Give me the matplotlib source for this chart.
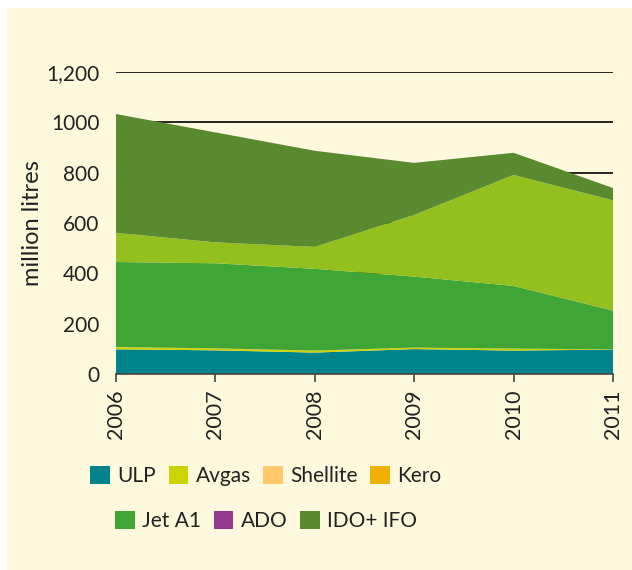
import matplotlib
matplotlib.use("Agg")
import matplotlib.pyplot as plt
from matplotlib.patches import Patch, Rectangle

plt.rcParams['font.family'] = ['Lato', 'DejaVu Sans']

years = [2006, 2007, 2008, 2009, 2010, 2011]
ulp = [98, 94, 85, 99, 93, 97]
avgas = [8, 7, 7, 6, 7, 1]
shellite = [0, 0, 0, 0, 0, 0]
kero = [1, 1, 1, 0, 1, 0]
jet_a1 = [338, 338, 325, 282, 249, 154]
ado = [116, 83, 87, 245, 441, 438]
ido_ifo = [472, 437, 382, 207, 88, 49]

labels = ['ULP', 'Avgas', 'Shellite', 'Kero', 'Jet A1', 'ADO', 'IDO+ IFO']
legend_colors = ['#00838a', '#ccd400', '#ffc86b', '#f0b000', '#3fa535', '#953a8c', '#5a8a30']
# the ADO band is filled light green in the original
area_colors = ['#00838a', '#ccd400', '#ffc86b', '#f0b000', '#3fa535', '#93c01f', '#5a8a30']

yticks = [0, 200, 400, 600, 800, 1000, 1200]
ytick_labels = ['0', '200', '400', '600', '800', '1000', '1,200']

bg = '#fef9dc'
txt = '#222222'

fig = plt.figure(figsize=(6.32, 5.70), dpi=100, facecolor='white')
fig.patches.append(Rectangle((7 / 632, 0), 1, 1 - 8 / 570, transform=fig.transFigure,
                             facecolor=bg, edgecolor='none', zorder=-10))

ax = fig.add_axes([116 / 632, 1 - 374 / 570, 497 / 632, 302 / 570])
ax.patch.set_alpha(0)

ax.stackplot(years, ulp, avgas, shellite, kero, jet_a1, ado, ido_ifo,
             colors=area_colors, linewidth=0, zorder=2)

ax.set_xlim(2006, 2011)
ax.set_ylim(0, 1200)
ax.set_yticks(yticks)
ax.set_yticklabels(ytick_labels)
ax.set_xticks(years)
ax.set_xticklabels([str(y) for y in years], rotation=90)

ax.yaxis.grid(True, color='black', linewidth=1.2)
ax.set_axisbelow(True)
for gl in ax.get_ygridlines():
    gl.set_zorder(1)

for s in ['left', 'right', 'top']:
    ax.spines[s].set_visible(False)
ax.spines['bottom'].set_color('#444444')
ax.spines['bottom'].set_linewidth(1.2)
ax.spines['bottom'].set_zorder(3)

ax.tick_params(axis='y', length=0, pad=12, labelsize=15, colors=txt)
ax.tick_params(axis='x', length=6, width=1.2, color='#444444', pad=5,
               labelsize=15.5, labelcolor=txt)

ax.set_ylabel('million litres', fontsize=17, color=txt)
ax.yaxis.set_label_coords(-0.147, 0.5)

handles = [Patch(facecolor=c, edgecolor='none') for c in legend_colors]
leg_kw = dict(frameon=False, fontsize=15, handlelength=0.95, handleheight=0.95,
              handletextpad=0.35, columnspacing=0.6, borderaxespad=0, borderpad=0,
              labelcolor=txt)
fig.legend(handles[:4], labels[:4], ncol=4, loc='center',
           bbox_to_anchor=(266 / 632, 1 - 476 / 570), **leg_kw)
fig.legend(handles[4:], labels[4:], ncol=3, loc='center',
           bbox_to_anchor=(266 / 632, 1 - 521 / 570), **leg_kw)

fig.savefig('out.png', dpi=100, facecolor=fig.get_facecolor())
